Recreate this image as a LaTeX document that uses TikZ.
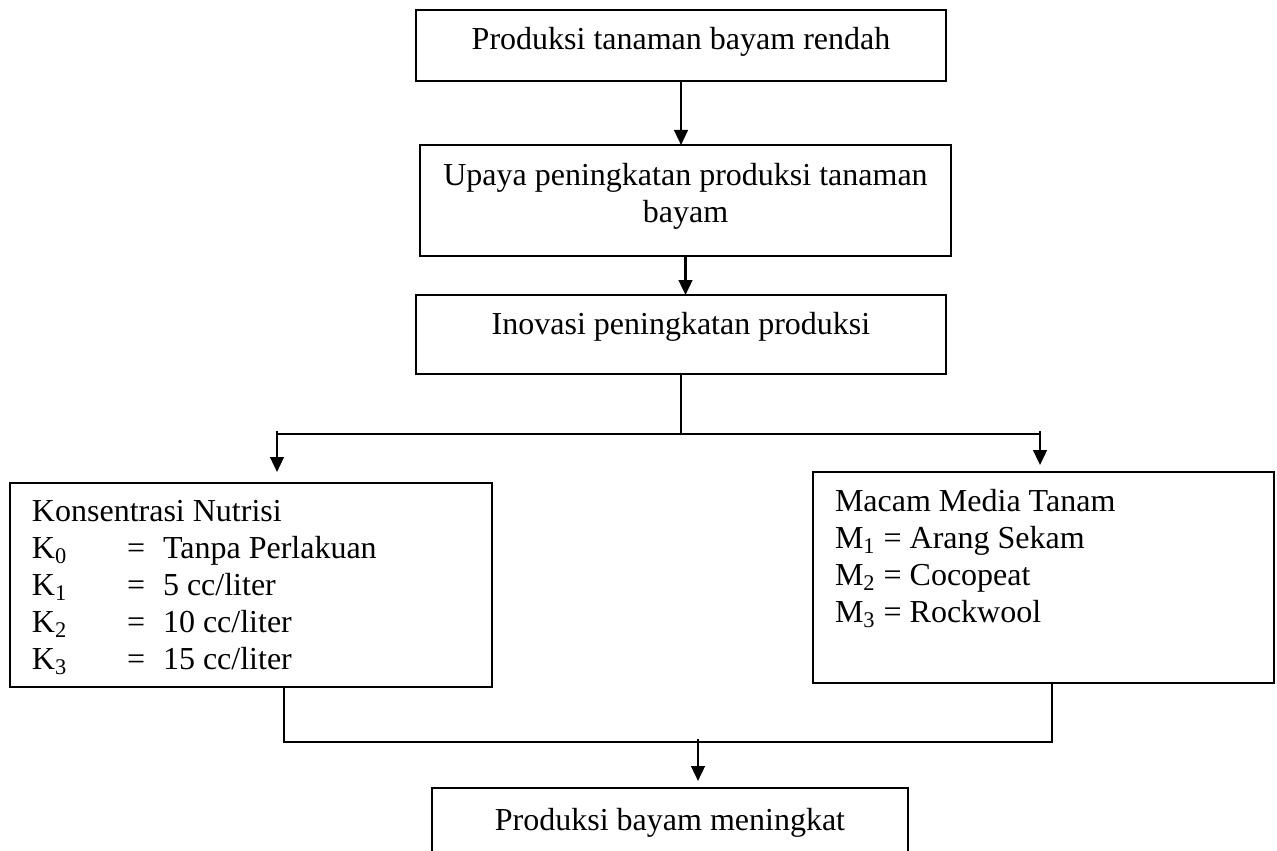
\documentclass[tikz,border=0pt]{standalone}
\usepackage{fontspec}
\setmainfont{Liberation Serif}
\usetikzlibrary{arrows.meta,calc}
\begin{document}
\begin{tikzpicture}[x=0.5pt,y=-0.5pt,line width=1pt,
  box/.style={draw,rectangle,inner sep=0pt,outer sep=0pt},
  txt/.style={inner sep=0pt,outer sep=0pt,font=\fontsize{16}{18.75}\selectfont},
  arr/.style={line width=1.3pt,-{Triangle[length=7.5pt,width=6.8pt]}}]
\useasboundingbox[fill=white] (0,0) rectangle (1277,850);
% boxes
\node[box,minimum width=265pt,minimum height=35.5pt] (b1) at (681,45.5) {};
\node[box,minimum width=265.5pt,minimum height=55.5pt] (b2) at (685.5,200.5) {};
\node[box,minimum width=265pt,minimum height=39.5pt] (b3) at (681,334.5) {};
\node[box,minimum width=241pt,minimum height=102pt] (bK) at (251,585) {};
\node[box,minimum width=230.5pt,minimum height=105.5pt] (bM) at (1043.5,577.5) {};
\begin{scope}
\clip (0,0) rectangle (1277,850);
\node[box,minimum width=238pt,minimum height=41pt] (b4) at (670,829) {};
\end{scope}
% texts
\node[txt,anchor=base] (t1) at (681,50) {Produksi tanaman bayam rendah};
\node[txt,anchor=base] (t2a) at (685.5,185) {Upaya peningkatan produksi tanaman};
\node[txt,anchor=base] (t2b) at (685.5,222.5) {bayam};
\node[txt,anchor=base] (t3) at (681,334) {Inovasi peningkatan produksi};
\node[txt,anchor=base west] (k0) at (32,521) {Konsentrasi Nutrisi};
\node[txt,anchor=base west] (k1) at (32,558) {\makebox[47.5pt][l]{K\textsubscript{0}}=\hspace{9pt}Tanpa Perlakuan};
\node[txt,anchor=base west] (k2) at (32,595) {\makebox[47.5pt][l]{K\textsubscript{1}}=\hspace{9pt}5 cc/liter};
\node[txt,anchor=base west] (k3) at (32,632) {\makebox[47.5pt][l]{K\textsubscript{2}}=\hspace{9pt}10 cc/liter};
\node[txt,anchor=base west] (k4) at (32,669) {\makebox[47.5pt][l]{K\textsubscript{3}}=\hspace{9pt}15 cc/liter};
\node[txt,anchor=base west] (m0) at (835,511) {Macam Media Tanam};
\node[txt,anchor=base west] (m1) at (835,548) {M\textsubscript{1} = Arang Sekam};
\node[txt,anchor=base west] (m2) at (835,585) {M\textsubscript{2} = Cocopeat};
\node[txt,anchor=base west] (m3) at (835,622) {M\textsubscript{3} = Rockwool};
\node[txt,anchor=base] (t4) at (670,830) {Produksi bayam meningkat};
% connectors
\coordinate (hy) at (0,434);
\coordinate (lk) at (277,431);
\coordinate (rm) at (1040,431);
\coordinate (hb) at (0,742);
\coordinate (kx) at (284,0);
\coordinate (mx) at (1052,0);
\coordinate (ax) at (698,739);
\draw[arr] (b1.south) -- (b1.south |- b2.north);
\draw[arr] (b2.south) -- (b2.south |- b3.north);
\draw (b3.south) -- (b3.south |- hy);
\draw (lk |- hy) -- (rm |- hy);
\draw[arr,shorten >=5.5pt] (lk) -- (lk |- bK.north);
\draw[arr,shorten >=3.5pt] (rm) -- (rm |- bM.north);
\draw (bK.south -| kx) -- (kx |- hb) -- (mx |- hb) -- (bM.south -| mx);
\draw[arr,shorten >=3.5pt] (ax) -- (ax |- b4.north);
\end{tikzpicture}
\end{document}
